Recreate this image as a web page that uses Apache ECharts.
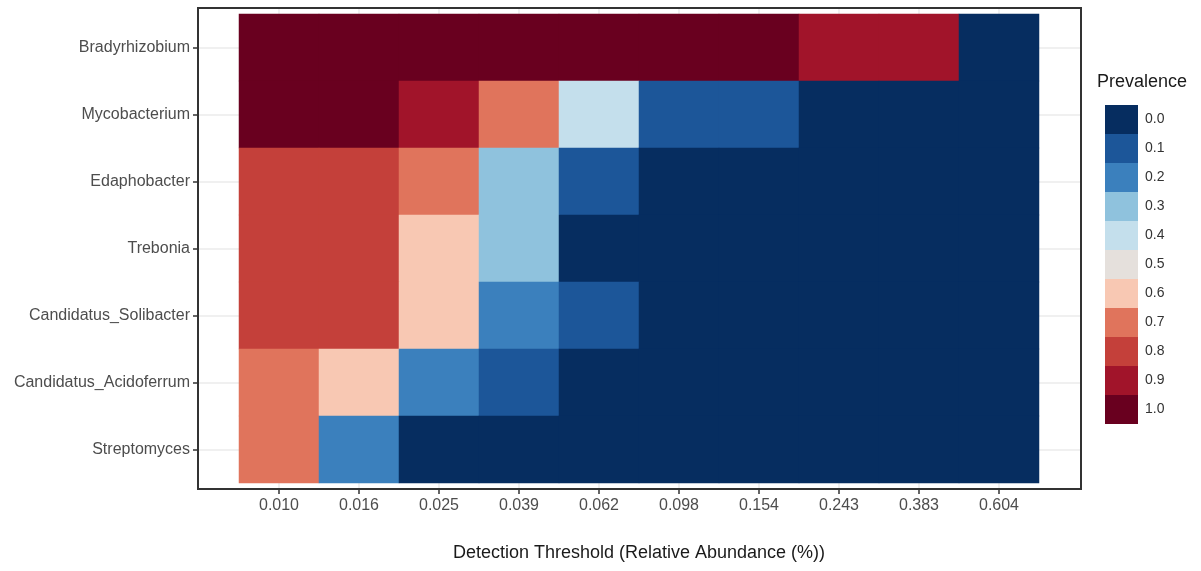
<!DOCTYPE html>
<html>
<head>
<meta charset="utf-8">
<title>Prevalence by detection threshold</title>
<script src="https://cdn.jsdelivr.net/npm/echarts@6/dist/echarts.min.js"></script>
<style>
  html, body { margin: 0; padding: 0; background: #ffffff; }
  #chart { width: 1201px; height: 571px; }
</style>
</head>
<body>
<div id="chart"></div>
<script>
// Detection thresholds (relative abundance, %) along the x axis
const thresholds = ['0.010', '0.016', '0.025', '0.039', '0.062', '0.098', '0.154', '0.243', '0.383', '0.604'];

// Genera, listed top to bottom
const genera = [
  'Bradyrhizobium',
  'Mycobacterium',
  'Edaphobacter',
  'Trebonia',
  'Candidatus_Solibacter',
  'Candidatus_Acidoferrum',
  'Streptomyces'
];

// Prevalence of each genus at every threshold
const bradyrhizobium        = [1.0, 1.0, 1.0, 1.0, 1.0, 1.0, 1.0, 0.9, 0.9, 0.0];
const mycobacterium         = [1.0, 1.0, 0.9, 0.7, 0.4, 0.1, 0.1, 0.0, 0.0, 0.0];
const edaphobacter          = [0.8, 0.8, 0.7, 0.3, 0.1, 0.0, 0.0, 0.0, 0.0, 0.0];
const trebonia              = [0.8, 0.8, 0.6, 0.3, 0.0, 0.0, 0.0, 0.0, 0.0, 0.0];
const candidatusSolibacter  = [0.8, 0.8, 0.6, 0.2, 0.1, 0.0, 0.0, 0.0, 0.0, 0.0];
const candidatusAcidoferrum = [0.7, 0.6, 0.2, 0.1, 0.0, 0.0, 0.0, 0.0, 0.0, 0.0];
const streptomyces          = [0.7, 0.2, 0.0, 0.0, 0.0, 0.0, 0.0, 0.0, 0.0, 0.0];

// Legend steps and their labels
const prevalenceLevels = [0.0, 0.1, 0.2, 0.3, 0.4, 0.5, 0.6, 0.7, 0.8, 0.9, 1.0];
const prevalenceLabels = ['0.0', '0.1', '0.2', '0.3', '0.4', '0.5', '0.6', '0.7', '0.8', '0.9', '1.0'];

// Diverging red-blue palette, blue = low prevalence, dark red = full prevalence
const palette = ['#062d60', '#1c5699', '#3b80bd', '#8fc2dd', '#c4dfec', '#e5e0dc',
                 '#f8c8b3', '#e0745c', '#c4403a', '#a1142a', '#69001f'];

const rows = [bradyrhizobium, mycobacterium, edaphobacter, trebonia,
              candidatusSolibacter, candidatusAcidoferrum, streptomyces];

const cells = [];
rows.forEach((row, yi) => {
  row.forEach((v, xi) => cells.push([xi, yi, v]));
});

const FONT = '"Liberation Sans", Arial, sans-serif';
const GRID_LINE = '#ebebeb';
const INK = '#333333';

const chart = echarts.init(document.getElementById('chart'), null, { renderer: 'canvas' });

chart.setOption({
  backgroundColor: '#ffffff',
  animation: false,
  textStyle: { fontFamily: FONT },
  title: {
    text: 'Prevalence',
    left: 1097,
    top: 73,
    padding: 0,
    textStyle: { fontFamily: FONT, fontSize: 18, fontWeight: 'normal', color: '#1a1a1a' }
  },
  grid: [
    // tile area
    { left: 239, top: 14, width: 800, height: 469 },
    // panel frame
    { left: 198, top: 8, width: 883, height: 481, show: true, z: 5,
      borderColor: INK, borderWidth: 2, backgroundColor: 'transparent' }
  ],
  xAxis: [
    {
      type: 'category', gridIndex: 0, data: thresholds, position: 'bottom', offset: 6,
      axisLine: { show: false },
      axisTick: { show: true, alignWithLabel: true, length: 5, lineStyle: { color: INK, width: 1.5 } },
      axisLabel: { margin: 9, fontSize: 16, color: '#4d4d4d', fontFamily: FONT },
      splitLine: { show: false },
      name: 'Detection Threshold (Relative Abundance (%))',
      nameLocation: 'middle',
      nameGap: 55,
      nameTextStyle: { fontSize: 18, color: '#1a1a1a', fontFamily: FONT }
    },
    {
      type: 'category', gridIndex: 0, data: thresholds, position: 'bottom', offset: 6,
      axisLine: { show: false }, axisLabel: { show: false }, splitLine: { show: false },
      axisTick: { show: true, inside: true, alignWithLabel: true, length: 6,
                  lineStyle: { color: GRID_LINE, width: 1.5 } }
    },
    {
      type: 'category', gridIndex: 0, data: thresholds, position: 'top', offset: 6,
      axisLine: { show: false }, axisLabel: { show: false }, splitLine: { show: false },
      axisTick: { show: true, inside: true, alignWithLabel: true, length: 6,
                  lineStyle: { color: GRID_LINE, width: 1.5 } }
    },
    { type: 'value', gridIndex: 1, show: false }
  ],
  yAxis: [
    {
      type: 'category', gridIndex: 0, data: genera, inverse: true, position: 'left', offset: 41,
      axisLine: { show: false },
      axisTick: { show: true, alignWithLabel: true, length: 5, lineStyle: { color: INK, width: 1.5 } },
      axisLabel: { margin: 8, fontSize: 16, color: '#4d4d4d', fontFamily: FONT },
      splitLine: { show: false }
    },
    {
      type: 'category', gridIndex: 0, data: genera, inverse: true, position: 'left', offset: 41,
      axisLine: { show: false }, axisLabel: { show: false }, splitLine: { show: false },
      axisTick: { show: true, inside: true, alignWithLabel: true, length: 41,
                  lineStyle: { color: GRID_LINE, width: 1.5 } }
    },
    {
      type: 'category', gridIndex: 0, data: genera, inverse: true, position: 'right', offset: 42,
      axisLine: { show: false }, axisLabel: { show: false }, splitLine: { show: false },
      axisTick: { show: true, inside: true, alignWithLabel: true, length: 42,
                  lineStyle: { color: GRID_LINE, width: 1.5 } }
    },
    { type: 'value', gridIndex: 1, show: false }
  ],
  visualMap: {
    type: 'piecewise',
    seriesIndex: 0,
    orient: 'vertical',
    inverse: true,
    align: 'left',
    left: 1105,
    top: 105,
    padding: 0,
    itemWidth: 33,
    itemHeight: 29,
    itemGap: 0,
    itemSymbol: 'rect',
    textGap: 7,
    selectedMode: false,
    hoverLink: false,
    showLabel: true,
    textStyle: { fontSize: 14, color: '#333333', fontFamily: FONT },
    pieces: prevalenceLevels.map((v, i) => ({ value: v, label: prevalenceLabels[i], color: palette[i] }))
  },
  series: [
    {
      type: 'heatmap',
      xAxisIndex: 0,
      yAxisIndex: 0,
      data: cells,
      itemStyle: { borderWidth: 0 },
      emphasis: { disabled: true },
      label: { show: false }
    }
  ]
});
</script>
</body>
</html>
